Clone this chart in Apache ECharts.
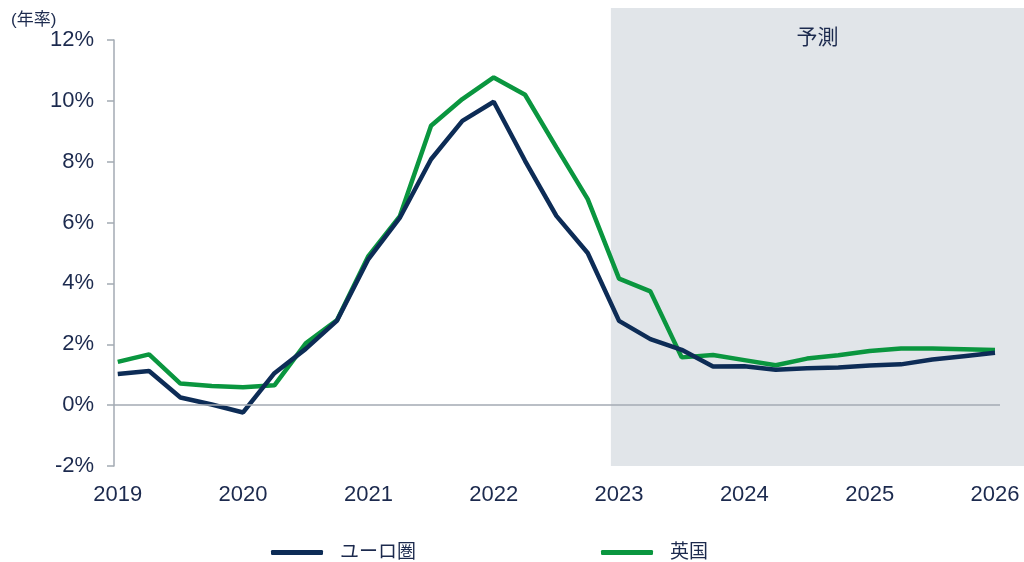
<!DOCTYPE html>
<html>
<head>
<meta charset="utf-8">
<script src="https://cdn.jsdelivr.net/npm/echarts@6/dist/echarts.min.js"></script>
<style>
  html, body { margin: 0; padding: 0; background: #fff; }
  #chart { width: 1024px; height: 562px; }
</style>
</head>
<body>
<div id="chart"></div>
<script>
// 四半期 (2019Q1 〜 2026Q1)
const quarters = [
  2019, 2019.25, 2019.5, 2019.75, 2020, 2020.25, 2020.5, 2020.75,
  2021, 2021.25, 2021.5, 2021.75, 2022, 2022.25, 2022.5, 2022.75,
  2023, 2023.25, 2023.5, 2023.75, 2024, 2024.25, 2024.5, 2024.75,
  2025, 2025.25, 2025.5, 2025.75, 2026
];
// ユーロ圏 インフレ率 (%)
const euroArea = [
  1.02, 1.12, 0.25, 0.02, -0.24, 1.05, 1.85, 2.78,
  4.8, 6.15, 8.08, 9.34, 9.97, 8.03, 6.22, 5.0,
  2.77, 2.17, 1.82, 1.27, 1.28, 1.16, 1.21, 1.24,
  1.3, 1.34, 1.5, 1.61, 1.72
];
// 英国 インフレ率 (%)
const uk = [
  1.42, 1.67, 0.71, 0.63, 0.59, 0.65, 2.03, 2.8,
  4.9, 6.2, 9.18, 10.06, 10.77, 10.2, 8.47, 6.77,
  4.16, 3.74, 1.57, 1.65, 1.48, 1.31, 1.53, 1.64,
  1.78, 1.86, 1.86, 1.84, 1.81
];
const yearTicks = [2019, 2020, 2021, 2022, 2023, 2024, 2025, 2026];
const forecastStart = 2022.935;

const FONT = "'Liberation Sans', 'Noto Sans CJK JP', sans-serif";
const TEXT = '#1c2a4e';
const AXIS = '#a3aab3';

const chart = echarts.init(document.getElementById('chart'));

const option = {
    animation: false,
    textStyle: { fontFamily: FONT },
    grid: { left: 114, right: 24, top: 40, bottom: 96 },
    xAxis: {
        type: 'value',
        min: 2018.97,
        max: 2026.04,
        axisLine: { show: false },
        axisTick: { show: false },
        splitLine: { show: false },
        axisLabel: {
            color: TEXT,
            fontSize: 22,
            margin: 18,
            fontFamily: FONT,
            customValues: yearTicks,
            formatter: v => String(v)
        }
    },
    yAxis: {
        type: 'value',
        min: -2,
        max: 12,
        interval: 2,
        axisLine: { show: true, lineStyle: { color: AXIS, width: 1.5 } },
        axisTick: { show: true, length: 7, lineStyle: { color: AXIS, width: 1.5 } },
        splitLine: { show: false },
        axisLabel: {
            color: TEXT,
            fontSize: 22,
            margin: 20,
            fontFamily: FONT,
            formatter: v => v + '%'
        }
    },
    legend: {
        left: 266,
        top: 538,
        itemGap: 185,
        itemWidth: 52,
        itemHeight: 5,
        icon: 'roundRect',
        textStyle: { color: TEXT, fontSize: 19, fontFamily: FONT, padding: [0, 0, 0, 12] },
        data: ['ユーロ圏', '英国']
    },
    series: [
        {
            name: 'ユーロ圏',
            type: 'line',
            data: quarters.map((q, i) => [q, euroArea[i]]),
            symbol: 'none',
            z: 4,
            lineStyle: { color: '#0d2c56', width: 4.5 },
            itemStyle: { color: '#0d2c56' },
            markLine: {
                silent: true,
                symbol: 'none',
                label: { show: false },
                lineStyle: { color: AXIS, type: 'solid', width: 1.5 },
                data: [{ yAxis: 0 }]
            }
        },
        {
            name: '英国',
            type: 'line',
            data: quarters.map((q, i) => [q, uk[i]]),
            symbol: 'none',
            z: 3,
            lineStyle: { color: '#0a963f', width: 4.5 },
            itemStyle: { color: '#0a963f' }
        }
    ]
};
chart.setOption(option);

// 予測期間の網掛け (右端まで)
const x0 = chart.convertToPixel({ xAxisIndex: 0 }, forecastStart);
const yBottom = chart.convertToPixel({ yAxisIndex: 0 }, -2);
const chartW = chart.getWidth();
const shadeTop = 8;
chart.setOption({
    graphic: [
        {
            type: 'rect',
            z: -10,
            silent: true,
            shape: { x: x0, y: shadeTop, width: chartW - x0, height: yBottom - shadeTop },
            style: { fill: '#e1e5e9' }
        },
        {
            type: 'text',
            z: 10,
            left: (x0 + chartW) / 2 - 21,
            top: 28,
            style: { text: '予測', fill: TEXT, fontSize: 21, fontFamily: FONT }
        },
        {
            type: 'text',
            left: 11,
            top: 12,
            style: { text: '(年率)', fill: TEXT, fontSize: 17, fontFamily: FONT }
        }
    ]
});
</script>
</body>
</html>
